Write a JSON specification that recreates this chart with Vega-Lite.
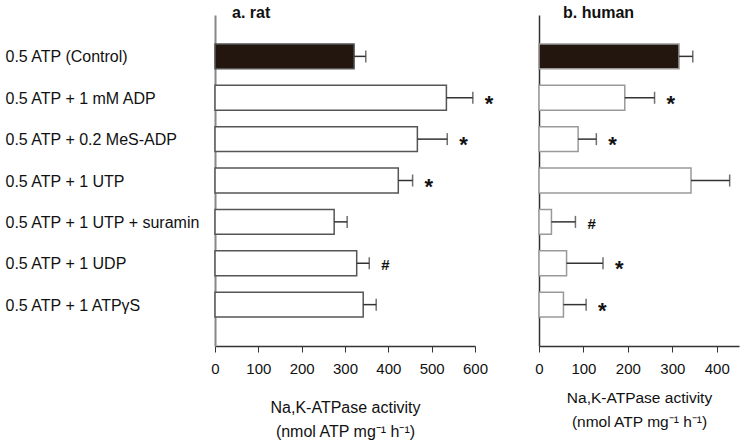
{
  "$schema": "https://vega.github.io/schema/vega-lite/v6.json",
  "background": "white",
  "padding": {"left": 5, "top": 5, "right": 5, "bottom": 5},
  "config": {
    "font": "Liberation Sans",
    "view": {"stroke": null},
    "axis": {"grid": false}
  },
  "datasets": {
    "rat": [
      {"label": "0.5 ATP (Control)", "group": "control", "value": 321, "hi": 348, "sig": ""},
      {"label": "0.5 ATP + 1 mM ADP", "group": "test", "value": 534, "hi": 595, "sig": "*"},
      {"label": "0.5 ATP + 0.2 MeS-ADP", "group": "test", "value": 467, "hi": 536, "sig": "*"},
      {"label": "0.5 ATP + 1 UTP", "group": "test", "value": 423, "hi": 456, "sig": "*"},
      {"label": "0.5 ATP + 1 UTP + suramin", "group": "test", "value": 275, "hi": 305, "sig": ""},
      {"label": "0.5 ATP + 1 UDP", "group": "test", "value": 327, "hi": 356, "sig": "#"},
      {"label": "0.5 ATP + 1 ATPγS", "group": "test", "value": 342, "hi": 372, "sig": ""}
    ],
    "human": [
      {"label": "0.5 ATP (Control)", "group": "control", "value": 315, "hi": 346, "sig": ""},
      {"label": "0.5 ATP + 1 mM ADP", "group": "test", "value": 193, "hi": 260, "sig": "*"},
      {"label": "0.5 ATP + 0.2 MeS-ADP", "group": "test", "value": 88, "hi": 129, "sig": "*"},
      {"label": "0.5 ATP + 1 UTP", "group": "test", "value": 342, "hi": 429, "sig": ""},
      {"label": "0.5 ATP + 1 UTP + suramin", "group": "test", "value": 28, "hi": 82, "sig": "#"},
      {"label": "0.5 ATP + 1 UDP", "group": "test", "value": 62, "hi": 144, "sig": "*"},
      {"label": "0.5 ATP + 1 ATPγS", "group": "test", "value": 55, "hi": 106, "sig": "*"}
    ]
  },
  "bounds": "flush",
  "spacing": 64,
  "hconcat": [
    {
      "width": 260,
      "height": 331,
      "data": {"name": "rat"},
      "title": {"text": "a. rat", "anchor": "start", "frame": "group", "dx": 17, "dy": 19, "offset": 0, "baseline": "alphabetic", "fontSize": 16, "fontWeight": "bold", "color": "#111"},
      "encoding": {
        "y": {
          "field": "label", "type": "nominal", "sort": null, "title": null,
          "scale": {"paddingInner": 0.4, "paddingOuter": 0.7},
          "axis": {"ticks": false, "tickSize": 0, "labelAlign": "left", "labelPadding": 210, "labelLimit": 300, "labelFontSize": 16, "labelColor": "#111", "labelOffset": 1, "domainColor": "#888", "domainWidth": 2}
        }
      },
      "layer": [
        {
          "mark": {"type": "bar", "stroke": "#555", "strokeWidth": 1.5},
          "encoding": {
            "x": {
              "field": "value", "type": "quantitative",
              "scale": {"domain": [0, 600], "nice": false},
              "axis": {"values": [0, 100, 200, 300, 400, 500, 600], "labelFlush": false, "tickSize": 6, "tickColor": "#333", "domainColor": "#333", "domainWidth": 1.5, "labelFontSize": 15, "labelColor": "#111", "labelPadding": 9, "titleFontSize": 16, "titleFontWeight": "normal", "titleColor": "#111", "titlePadding": 23, "titleLineHeight": 24},
              "title": ["Na,K-ATPase activity", "(nmol ATP mg⁻¹ h⁻¹)"]
            },
            "fill": {"field": "group", "type": "nominal", "scale": {"domain": ["control", "test"], "range": ["#22160e", "white"]}, "legend": null}
          }
        },
        {
          "mark": {"type": "rule", "stroke": "#333", "strokeWidth": 1.5},
          "encoding": {"x": {"field": "value", "type": "quantitative"}, "x2": {"field": "hi"}}
        },
        {
          "mark": {"type": "tick", "color": "#333", "thickness": 1.5, "size": 12, "orient": "vertical"},
          "encoding": {"x": {"field": "hi", "type": "quantitative"}}
        },
        {
          "transform": [{"filter": "datum.sig === '*'"}],
          "mark": {"type": "text", "align": "left", "baseline": "middle", "dx": 12, "dy": 6, "fontSize": 22, "fontWeight": "bold", "color": "#111"},
          "encoding": {"x": {"field": "hi", "type": "quantitative"}, "text": {"field": "sig"}}
        },
        {
          "transform": [{"filter": "datum.sig === '#'"}],
          "mark": {"type": "text", "align": "left", "baseline": "middle", "dx": 12, "dy": 2, "fontSize": 15, "fontWeight": "bold", "color": "#111"},
          "encoding": {"x": {"field": "hi", "type": "quantitative"}, "text": {"field": "sig"}}
        }
      ]
    },
    {
      "width": 200,
      "height": 331,
      "data": {"name": "human"},
      "title": {"text": "b. human", "anchor": "start", "frame": "group", "dx": 24, "dy": 19, "offset": 0, "baseline": "alphabetic", "fontSize": 16, "fontWeight": "bold", "color": "#111"},
      "encoding": {
        "y": {
          "field": "label", "type": "nominal", "sort": null, "title": null,
          "scale": {"paddingInner": 0.4, "paddingOuter": 0.7},
          "axis": {"ticks": false, "tickSize": 0, "labels": false, "domainColor": "#333", "domainWidth": 1.5}
        }
      },
      "layer": [
        {
          "mark": {"type": "bar", "stroke": "#999", "strokeWidth": 1.5},
          "encoding": {
            "x": {
              "field": "value", "type": "quantitative",
              "scale": {"domain": [0, 450], "nice": false},
              "axis": {"values": [0, 100, 200, 300, 400], "labelFlush": false, "tickSize": 6, "tickColor": "#333", "domainColor": "#333", "domainWidth": 1.5, "labelFontSize": 15, "labelColor": "#111", "labelPadding": 9, "titleFontSize": 15.5, "titleFontWeight": "normal", "titleColor": "#111", "titlePadding": 14, "titleLineHeight": 24},
              "title": ["Na,K-ATPase activity", "(nmol ATP mg⁻¹ h⁻¹)"]
            },
            "fill": {"field": "group", "type": "nominal", "scale": {"domain": ["control", "test"], "range": ["#22160e", "white"]}, "legend": null}
          }
        },
        {
          "mark": {"type": "rule", "stroke": "#333", "strokeWidth": 1.5},
          "encoding": {"x": {"field": "value", "type": "quantitative"}, "x2": {"field": "hi"}}
        },
        {
          "mark": {"type": "tick", "color": "#333", "thickness": 1.5, "size": 12, "orient": "vertical"},
          "encoding": {"x": {"field": "hi", "type": "quantitative"}}
        },
        {
          "transform": [{"filter": "datum.sig === '*'"}],
          "mark": {"type": "text", "align": "left", "baseline": "middle", "dx": 12, "dy": 6, "fontSize": 22, "fontWeight": "bold", "color": "#111"},
          "encoding": {"x": {"field": "hi", "type": "quantitative"}, "text": {"field": "sig"}}
        },
        {
          "transform": [{"filter": "datum.sig === '#'"}],
          "mark": {"type": "text", "align": "left", "baseline": "middle", "dx": 12, "dy": 2, "fontSize": 15, "fontWeight": "bold", "color": "#111"},
          "encoding": {"x": {"field": "hi", "type": "quantitative"}, "text": {"field": "sig"}}
        }
      ]
    }
  ]
}
